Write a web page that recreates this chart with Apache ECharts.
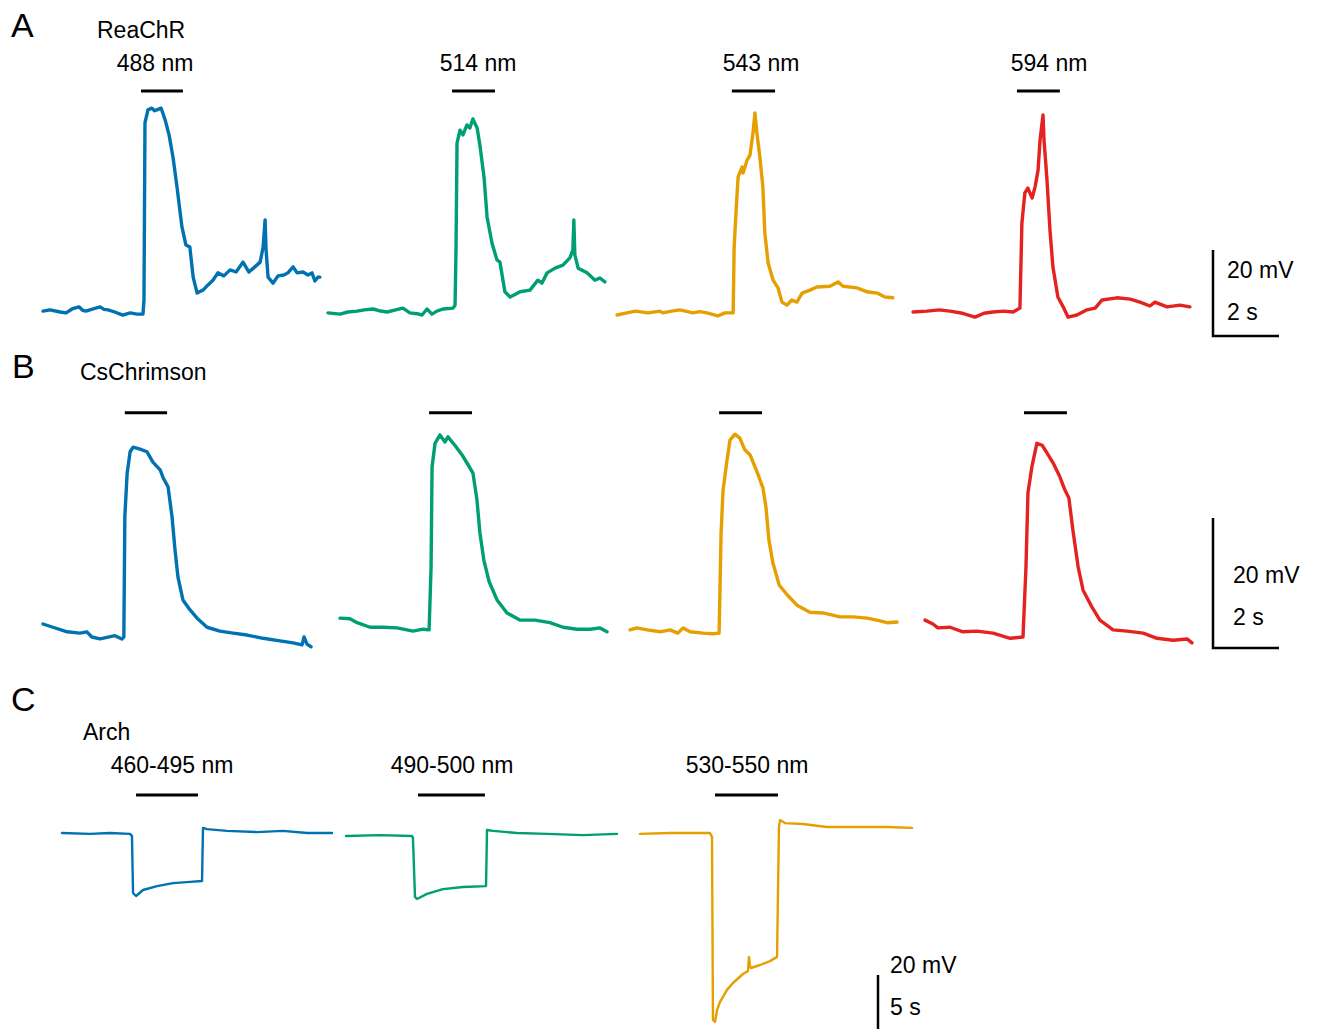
<!DOCTYPE html>
<html>
<head>
<meta charset="utf-8">
<script src="https://cdn.jsdelivr.net/npm/echarts@6/dist/echarts.min.js"></script>
<style>
  html, body { margin: 0; padding: 0; background: #ffffff; }
  #chart { width: 1319px; height: 1029px; }
</style>
</head>
<body>
<div id="chart"></div>
<script>
// Membrane potential traces, [time (s), Vm (mV) relative to the row's resting level]

// A: ReaChR
const reachr488 = [[0,0.2],[0.21,0.5],[0.52,0],[0.70,-0.2],[0.88,0.7],[1.09,1.2],[1.20,0.4],[1.30,0.2],[1.52,0.7],[1.73,1.2],[1.85,0.6],[1.97,0.5],[2.18,0],[2.30,-0.4],[2.42,-0.7],[2.64,-0.2],[2.85,-0.5],[3.03,-0.5],[3.06,2.8],[3.09,44.0],[3.18,47.0],[3.30,47.4],[3.38,46.8],[3.45,47.0],[3.58,47.4],[3.70,44.7],[3.82,41.2],[3.94,36.0],[4.06,29.1],[4.21,19.8],[4.33,15.6],[4.45,15.1],[4.55,8.1],[4.67,4.4],[4.85,5.1],[5.00,6.3],[5.15,7.4],[5.30,9.1],[5.48,8.4],[5.67,9.8],[5.85,9.3],[6.06,11.6],[6.24,9.3],[6.42,10.5],[6.58,11.6],[6.67,15.1],[6.73,21.4],[6.76,14.4],[6.82,8.1],[6.97,6.7],[7.12,8.4],[7.30,8.6],[7.42,9.1],[7.58,10.5],[7.70,9.1],[7.88,9.3],[8.03,8.6],[8.15,9.1],[8.24,7.2],[8.33,8.1],[8.39,8.1]];
const reachr514 = [[0,-0.2],[0.36,-0.5],[0.60,0],[0.88,0.2],[1.10,0.5],[1.36,0.7],[1.55,0.3],[1.79,0],[2.05,0.5],[2.27,0.9],[2.48,-0.2],[2.70,-0.4],[2.85,-0.7],[3.00,0.7],[3.15,-0.5],[3.30,0.2],[3.48,0.7],[3.79,0.9],[3.85,1.6],[3.88,15.1],[3.91,39.3],[4.00,42.3],[4.09,41.2],[4.21,43.5],[4.30,42.8],[4.39,44.9],[4.52,42.8],[4.61,38.4],[4.73,31.2],[4.82,22.1],[4.97,16.0],[5.12,12.1],[5.21,11.6],[5.36,4.7],[5.52,3.5],[5.82,4.7],[6.12,5.1],[6.36,7.4],[6.48,6.7],[6.64,9.1],[6.88,10.2],[7.12,10.9],[7.33,12.6],[7.42,14.4],[7.45,21.4],[7.48,13.3],[7.58,10.2],[7.85,9.1],[8.09,7.4],[8.24,7.9],[8.39,7.0]];
const reachr543 = [[0,-0.7],[0.30,-0.2],[0.55,0.2],[0.94,-0.2],[1.30,0.2],[1.39,-0.2],[1.65,0.2],[1.91,0.5],[2.30,-0.2],[2.50,0.1],[2.73,-0.2],[3.06,-0.9],[3.27,-0.2],[3.52,-0.2],[3.55,15.1],[3.61,23.7],[3.67,31.4],[3.79,33.7],[3.82,32.3],[3.94,35.3],[4.03,36.5],[4.12,41.6],[4.18,46.3],[4.24,41.6],[4.33,36.0],[4.42,29.1],[4.48,18.4],[4.58,11.4],[4.73,7.4],[4.88,5.6],[5.00,2.3],[5.15,1.6],[5.30,2.8],[5.45,2.3],[5.61,4.4],[5.85,5.1],[6.06,5.8],[6.45,6.0],[6.70,7.0],[6.85,6.0],[7.27,5.6],[7.58,4.7],[7.88,4.4],[8.12,3.5],[8.36,3.3]];
const reachr594 = [[0,0],[0.42,0.2],[0.80,0.5],[1.12,0.2],[1.50,-0.3],[1.88,-1.2],[2.15,-0.3],[2.42,0],[2.75,0.2],[3.03,0],[3.24,0.9],[3.30,20.7],[3.39,27.7],[3.48,28.8],[3.61,26.5],[3.70,29.1],[3.79,33.0],[3.85,40.0],[3.94,45.8],[3.97,40.0],[4.06,30.7],[4.15,19.1],[4.24,10.5],[4.39,3.5],[4.55,1.2],[4.70,-1.2],[4.97,-0.7],[5.27,0.5],[5.52,0.9],[5.73,2.8],[6.18,3.3],[6.58,3.0],[6.88,2.3],[7.18,1.4],[7.33,2.3],[7.70,1.2],[8.09,1.6],[8.39,1.2]];
const reachrStim = [[2.97, 4.24], [3.76, 5.06], [3.48, 4.79], [3.15, 4.45]];
const reachrLabels = ['488 nm', '514 nm', '543 nm', '594 nm'];

// B: CsChrimson
const chrimson1 = [[0,2.0],[0.30,1.5],[0.73,0.8],[1.12,0.6],[1.33,0.8],[1.48,0],[1.73,-0.3],[2.18,0.2],[2.39,-0.3],[2.45,0],[2.48,18.5],[2.55,25.2],[2.64,28.5],[2.73,29.2],[2.94,28.9],[3.15,28.5],[3.33,26.9],[3.55,25.7],[3.64,24.5],[3.79,23.1],[3.91,18.5],[4.00,13.4],[4.09,9.2],[4.24,5.7],[4.45,4.2],[4.67,2.9],[4.97,1.5],[5.36,0.9],[5.76,0.6],[6.18,0.3],[6.67,-0.2],[7.18,-0.6],[7.58,-0.9],[7.85,-1.2],[7.91,0],[8.00,-1.1],[8.12,-1.5]];
const chrimson2 = [[0,2.9],[0.30,2.8],[0.52,2.2],[0.91,1.5],[1.30,1.5],[1.73,1.4],[2.21,0.9],[2.52,1.2],[2.70,1.1],[2.76,10.8],[2.79,26.2],[2.88,29.8],[3.03,31.1],[3.18,30.0],[3.27,30.8],[3.48,29.5],[3.70,28.0],[3.88,26.5],[4.03,25.2],[4.15,21.1],[4.24,16.0],[4.36,11.8],[4.52,8.5],[4.76,5.7],[5.06,3.7],[5.45,2.6],[5.91,2.6],[6.36,2.2],[6.76,1.5],[7.18,1.2],[7.58,1.2],[7.88,1.4],[8.09,0.8]];
const chrimson3 = [[0,1.1],[0.21,1.4],[0.52,1.1],[0.91,0.8],[1.21,1.1],[1.45,0.6],[1.61,1.4],[1.82,0.8],[2.21,0.6],[2.52,0.5],[2.70,0.6],[2.76,16.0],[2.82,22.6],[2.94,27.2],[3.03,30.3],[3.18,31.2],[3.33,30.6],[3.48,28.8],[3.64,28.0],[3.85,25.4],[4.03,22.9],[4.12,20.0],[4.21,14.9],[4.33,11.4],[4.52,8.0],[4.76,6.5],[5.06,4.9],[5.45,3.8],[5.85,3.7],[6.36,3.1],[6.76,3.1],[7.18,2.9],[7.48,2.6],[7.79,2.2],[8.09,2.3]];
const chrimson4 = [[0,2.6],[0.24,2.0],[0.39,1.4],[0.76,1.5],[1.15,0.8],[1.58,0.9],[2.06,0.6],[2.58,-0.2],[2.97,0],[3.06,10.8],[3.12,22.2],[3.24,26.2],[3.39,29.8],[3.55,29.5],[3.70,28.3],[3.88,26.8],[4.09,24.6],[4.24,22.6],[4.36,21.4],[4.48,16.5],[4.64,10.8],[4.79,7.2],[5.06,4.6],[5.30,2.6],[5.70,1.1],[6.12,0.9],[6.61,0.6],[7.03,-0.2],[7.52,-0.5],[7.94,-0.3],[8.09,-0.9]];
const chrimsonStim = [[2.48, 3.76], [2.70, 4.00], [2.70, 4.00], [3.00, 4.30]];

// C: Arch
const arch1 = [[0,0],[2.33,-0.3],[4.0,0],[5.67,-0.3],[5.83,-1.0],[5.92,-20.0],[6.17,-21.0],[6.75,-19.0],[7.92,-17.7],[9.25,-16.7],[10.67,-16.3],[11.67,-16.0],[11.75,1.7],[12.08,1.3],[13.75,0.7],[16.25,0.3],[18.42,0.7],[20.42,0],[22.5,0]];
const arch2 = [[0,-1.0],[2.83,-0.7],[5.5,-1.0],[5.58,-1.7],[5.75,-21.3],[5.92,-22.0],[6.75,-20.3],[8.08,-18.7],[9.75,-18.0],[11.67,-17.7],[11.75,1.0],[12.25,0.7],[14.25,0],[16.75,-0.3],[19.75,-0.7],[22.58,-0.3]];
const arch3 = [[0,-0.3],[2.5,0],[5.83,0],[6.0,-1.3],[6.08,-62.3],[6.25,-63.0],[6.42,-59.0],[6.67,-56.3],[7.25,-52.3],[7.75,-50.0],[8.58,-47.0],[9.0,-46.0],[9.08,-41.3],[9.17,-44.3],[9.25,-45.0],[10.0,-44.0],[10.83,-42.7],[11.42,-41.3],[11.58,2.0],[11.67,4.3],[12.08,3.3],[13.58,3.0],[15.58,2.0],[17.75,2.0],[20.58,2.0],[22.67,1.7]];
const archStim = [[6.17, 11.33], [6.0, 11.58], [6.25, 11.5]];
const archLabels = ['460-495 nm', '490-500 nm', '530-550 nm'];

// Scale bars: [mV, s]
const scaleA = [20, 2];
const scaleB = [20, 2];
const scaleC = [20, 5];

const COLORS = ['#0072B2', '#009E73', '#E69F00', '#E42320'];
const FONT = '"Liberation Sans", Arial, Helvetica, sans-serif';

// Row layout: pixel placement, px per second, px per mV
const rows = [
  { traces: [reachr488, reachr514, reachr543, reachr594], stim: reachrStim,
    left: [43, 328, 617, 913], base: 312, pxS: 33, pxMV: 4.3, yMin: -3, yMax: 53,
    stimLevel: 51.4, lw: 3.4, scale: scaleA, scaleLeft: 1213, scaleBottom: 336 },
  { traces: [chrimson1, chrimson2, chrimson3, chrimson4], stim: chrimsonStim,
    left: [43, 340, 630, 925], base: 637, pxS: 33, pxMV: 6.5, yMin: -3, yMax: 36,
    stimLevel: 34.5, lw: 3.4, scale: scaleB, scaleLeft: 1213, scaleBottom: 648 },
  { traces: [arch1, arch2, arch3], stim: archStim,
    left: [62, 346, 640], base: 833, pxS: 12, pxMV: 3, yMin: -66, yMax: 14,
    stimLevel: 12.7, lw: 2.4, scale: scaleC, scaleLeft: 878, scaleBottom: 1035 }
];

const grids = [], xAxes = [], yAxes = [], series = [];

function addGrid(g, xr, yr) {
  const i = grids.length;
  grids.push(Object.assign({ containLabel: false, outerBoundsMode: 'none' }, g));
  xAxes.push({ gridIndex: i, type: 'value', min: xr[0], max: xr[1], show: false });
  yAxes.push({ gridIndex: i, type: 'value', min: yr[0], max: yr[1], show: false });
  return i;
}

rows.forEach(row => {
  row.traces.forEach((tr, k) => {
    const tEnd = tr[tr.length - 1][0];
    const gi = addGrid({
      left: row.left[k],
      top: row.base - row.yMax * row.pxMV,
      width: tEnd * row.pxS,
      height: (row.yMax - row.yMin) * row.pxMV
    }, [0, tEnd], [row.yMin, row.yMax]);
    series.push({
      type: 'line', xAxisIndex: gi, yAxisIndex: gi, data: tr,
      showSymbol: false, clip: false, silent: true, animation: false,
      lineStyle: { color: COLORS[k], width: row.lw, join: 'round', cap: 'round' }
    });
    const s = row.stim[k];
    series.push({
      type: 'line', xAxisIndex: gi, yAxisIndex: gi,
      data: [[s[0], row.stimLevel], [s[1], row.stimLevel]],
      showSymbol: false, clip: false, silent: true, animation: false,
      lineStyle: { color: '#000000', width: 3, cap: 'butt' }
    });
  });
  // scale bar
  const mv = row.scale[0], sec = row.scale[1];
  const gi = addGrid({
    left: row.scaleLeft,
    top: row.scaleBottom - mv * row.pxMV,
    width: sec * row.pxS,
    height: mv * row.pxMV
  }, [0, sec], [0, mv]);
  series.push({
    type: 'line', xAxisIndex: gi, yAxisIndex: gi,
    data: [[0, mv], [0, 0], [sec, 0]],
    showSymbol: false, clip: false, silent: true, animation: false,
    lineStyle: { color: '#000000', width: 2.5, join: 'miter', cap: 'butt' }
  });
});

function txt(text, x, y, size, align) {
  return {
    type: 'text', x: x, y: y, silent: true,
    style: { text: text, fill: '#000000', font: size + 'px ' + FONT,
             align: align || 'left', verticalAlign: 'middle' }
  };
}

const labelX = [[155, 478, 761, 1049], [172, 452, 747]];
const graphics = [
  txt('A', 11, 25, 34), txt('ReaChR', 97, 30, 23),
  txt('B', 12, 366, 34), txt('CsChrimson', 80, 372, 23),
  txt('C', 11, 699, 34), txt('Arch', 83, 732, 23),
  txt('20 mV', 1227, 270, 23), txt('2 s', 1227, 312, 23),
  txt('20 mV', 1233, 575, 23), txt('2 s', 1233, 617, 23),
  txt('20 mV', 890, 965, 23), txt('5 s', 890, 1007, 23)
];
reachrLabels.forEach((l, i) => graphics.push(txt(l, labelX[0][i], 63, 23, 'center')));
archLabels.forEach((l, i) => graphics.push(txt(l, labelX[1][i], 765, 23, 'center')));

const chart = echarts.init(document.getElementById('chart'), null, { renderer: 'svg' });
chart.setOption({
  backgroundColor: '#ffffff',
  animation: false,
  grid: grids,
  xAxis: xAxes,
  yAxis: yAxes,
  series: series,
  graphic: graphics
});
</script>
</body>
</html>
